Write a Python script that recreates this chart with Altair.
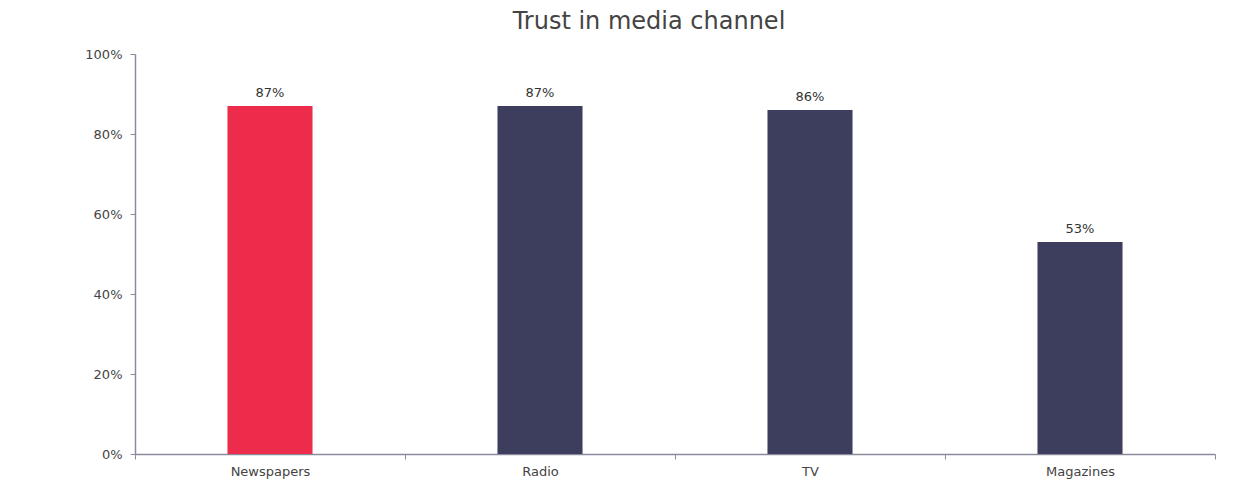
import altair as alt
import pandas as pd

categories = ["Newspapers", "Radio", "TV", "Magazines"]
values = [0.87, 0.87, 0.86, 0.53]
colors = ["#EC2C4A", "#3D3D5D", "#3D3D5D", "#3D3D5D"]

df = pd.DataFrame({"channel": categories, "value": values, "color": colors})

FONT = "DejaVu Sans"
AXIS_COLOR = "#8A8A9E"

x = alt.X("channel:N", sort=categories, title=None,
          scale=alt.Scale(paddingInner=0, paddingOuter=0),
          axis=alt.Axis(labelAngle=0, tickBand="extent", tickSize=5, labelPadding=6,
                        labelFontSize=13, labelColor="#444444", labelFont=FONT,
                        domainColor=AXIS_COLOR, tickColor=AXIS_COLOR, domainWidth=1.5))
y = alt.Y("value:Q", title=None,
          scale=alt.Scale(domain=[0, 1]),
          axis=alt.Axis(format=".0%", values=[0, 0.2, 0.4, 0.6, 0.8, 1.0], tickSize=5,
                        labelPadding=8, labelFontSize=13, labelColor="#444444", labelFont=FONT,
                        domainColor=AXIS_COLOR, tickColor=AXIS_COLOR, domainWidth=1.5, grid=False))

bars = alt.Chart(df).mark_bar(width=alt.RelativeBandSize(0.315)).encode(
    x=x, y=y, color=alt.Color("color:N", scale=None)
)
labels = alt.Chart(df).mark_text(dy=-9, baseline="alphabetic", fontSize=13, font=FONT, color="#333333").encode(
    x=alt.X("channel:N", sort=categories), y="value:Q", text=alt.Text("value:Q", format=".0%")
)

chart = (bars + labels).properties(
    width=1080, height=400,
    title=alt.TitleParams("Trust in media channel", fontSize=24, font=FONT, fontWeight="normal",
                          color="#444444", anchor="middle", dx=-26, offset=14),
    autosize="none",
    padding={"left": 127, "top": 46, "right": 35, "bottom": 28},
).configure_view(stroke=None)

chart.save("out.html", embed_options={"renderer": "svg", "actions": False})
